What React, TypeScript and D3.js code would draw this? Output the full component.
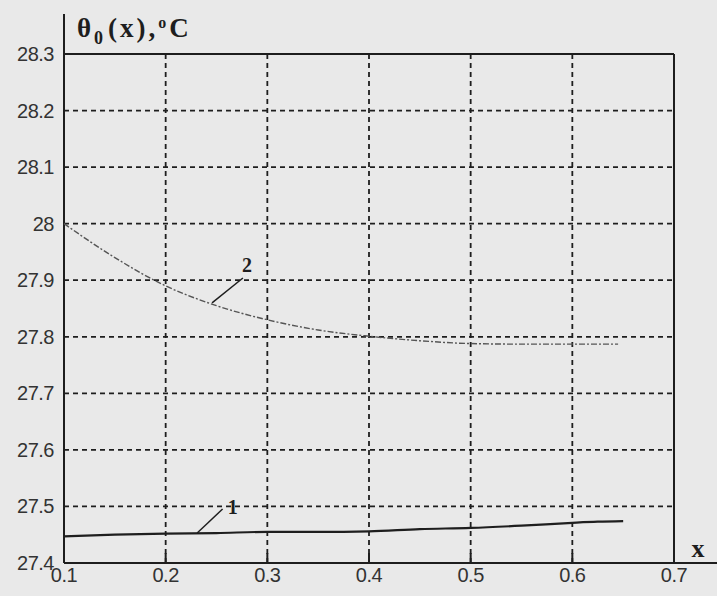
import React from "react";
import * as d3 from "d3";

const xTicks = [0.1, 0.2, 0.3, 0.4, 0.5, 0.6, 0.7];
const xTickLabels = ["0.1", "0.2", "0.3", "0.4", "0.5", "0.6", "0.7"];
const yTicks = [27.4, 27.5, 27.6, 27.7, 27.8, 27.9, 28.0, 28.1, 28.2, 28.3];
const yTickLabels = ["27.4", "27.5", "27.6", "27.7", "27.8", "27.9", "28", "28.1", "28.2", "28.3"];

// curve 1
const x1 = [0.1, 0.15, 0.2, 0.25, 0.3, 0.35, 0.4, 0.45, 0.5, 0.55, 0.6, 0.625, 0.65];
const y1 = [27.447, 27.45, 27.452, 27.453, 27.455, 27.455, 27.456, 27.46, 27.462, 27.466, 27.471, 27.473, 27.474];
// curve 2
const x2 = [0.1, 0.15, 0.2, 0.25, 0.3, 0.35, 0.4, 0.45, 0.5, 0.55, 0.6, 0.645];
const y2 = [28.0, 27.94, 27.89, 27.855, 27.83, 27.812, 27.801, 27.793, 27.788, 27.787, 27.787, 27.787];

// annotation labels
const annLabels = ["1", "2"];
const annFrom = [[0.231, 27.453], [0.2456, 27.86]];
const annTo = [[0.256, 27.4955], [0.276, 27.904]];
const annText = [[0.266, 27.499], [0.28, 27.927]];

export default function App() {
  const W = 717, H = 596;
  const x = d3.scaleLinear().domain([0.1, 0.7]).range([64, 674]);
  const y = d3.scaleLinear().domain([27.4, 28.3]).range([563, 54]);
  const line = d3.line<[number, number]>().x(d => x(d[0])).y(d => y(d[1])).curve(d3.curveMonotoneX);
  const c1 = x1.map((v, i) => [v, y1[i]] as [number, number]);
  const c2 = x2.map((v, i) => [v, y2[i]] as [number, number]);
  const ink = "#1e1e1e";
  const tickFont = "'Liberation Sans', Arial, sans-serif";
  const serif = "'Liberation Serif', 'DejaVu Serif', serif";
  return (
    <svg width={W} height={H} style={{ position: "absolute", left: 0, top: 0 }}>
      <rect x={0} y={0} width={W} height={H} fill="#e9e9e9" />
      {/* grid */}
      {xTicks.slice(1, -1).map(t => (
        <line key={"gx" + t} x1={x(t)} x2={x(t)} y1={y(28.3)} y2={y(27.4)} stroke={ink} strokeWidth={1.8} strokeDasharray="5,4" />
      ))}
      {yTicks.slice(1, -1).map(t => (
        <line key={"gy" + t} x1={x(0.1)} x2={x(0.7)} y1={y(t)} y2={y(t)} stroke={ink} strokeWidth={1.8} strokeDasharray="5,4" />
      ))}
      {/* frame */}
      <line x1={x(0.1)} x2={x(0.1)} y1={14} y2={y(27.4)} stroke={ink} strokeWidth={2} />
      <line x1={x(0.1)} x2={W} y1={y(27.4)} y2={y(27.4)} stroke={ink} strokeWidth={2} />
      <line x1={x(0.1)} x2={x(0.7)} y1={y(28.3)} y2={y(28.3)} stroke={ink} strokeWidth={2} />
      <line x1={x(0.7)} x2={x(0.7)} y1={y(28.3)} y2={y(27.4)} stroke={ink} strokeWidth={2} />
      {/* ticks */}
      {xTicks.slice(1, -1).map(t => (
        <line key={"tx" + t} x1={x(t)} x2={x(t)} y1={y(27.4)} y2={y(27.4) - 10} stroke={ink} strokeWidth={2} />
      ))}
      {/* curves */}
      <path d={line(c2) || ""} fill="none" stroke="#555" strokeWidth={1.4} strokeDasharray="6,2,2,2" />
      <path d={line(c1) || ""} fill="none" stroke={ink} strokeWidth={2.2} />
      {/* annotations */}
      {annLabels.map((lab, i) => (
        <g key={"ann" + lab}>
          <line x1={x(annFrom[i][0])} y1={y(annFrom[i][1])} x2={x(annTo[i][0])} y2={y(annTo[i][1])} stroke={ink} strokeWidth={1.5} />
          <text x={x(annText[i][0])} y={y(annText[i][1])} textAnchor="middle" dominantBaseline="central" fontFamily={serif} fontWeight="bold" fontSize={20} fill={ink}>{lab}</text>
        </g>
      ))}
      {/* tick labels */}
      {yTicks.map((t, i) => (
        <text key={"ly" + t} x={54} y={y(t)} textAnchor="end" dominantBaseline="central" fontFamily={tickFont} fontSize={20} fill="#333" letterSpacing={-0.5}>{yTickLabels[i]}</text>
      ))}
      {xTicks.map((t, i) => (
        <text key={"lx" + t} x={x(t)} y={582} textAnchor="middle" fontFamily={tickFont} fontSize={20} fill="#333" letterSpacing={-0.5}>{xTickLabels[i]}</text>
      ))}
      {/* axis titles */}
      <text x={77} y={37} fontFamily={serif} fontWeight="bold" fontSize={27} fill={ink} letterSpacing={3}>
        <tspan>θ</tspan>
        <tspan dy={7} fontSize={18}>0</tspan>
        <tspan dy={-7} dx={2}>(x),</tspan>
        <tspan dy={-9} fontSize={16}>o</tspan>
        <tspan dy={9}>C</tspan>
      </text>
      <text x={698} y={548} textAnchor="middle" dominantBaseline="central" fontFamily={serif} fontWeight="bold" fontSize={26} fill={ink}>x</text>
    </svg>
  );
}
